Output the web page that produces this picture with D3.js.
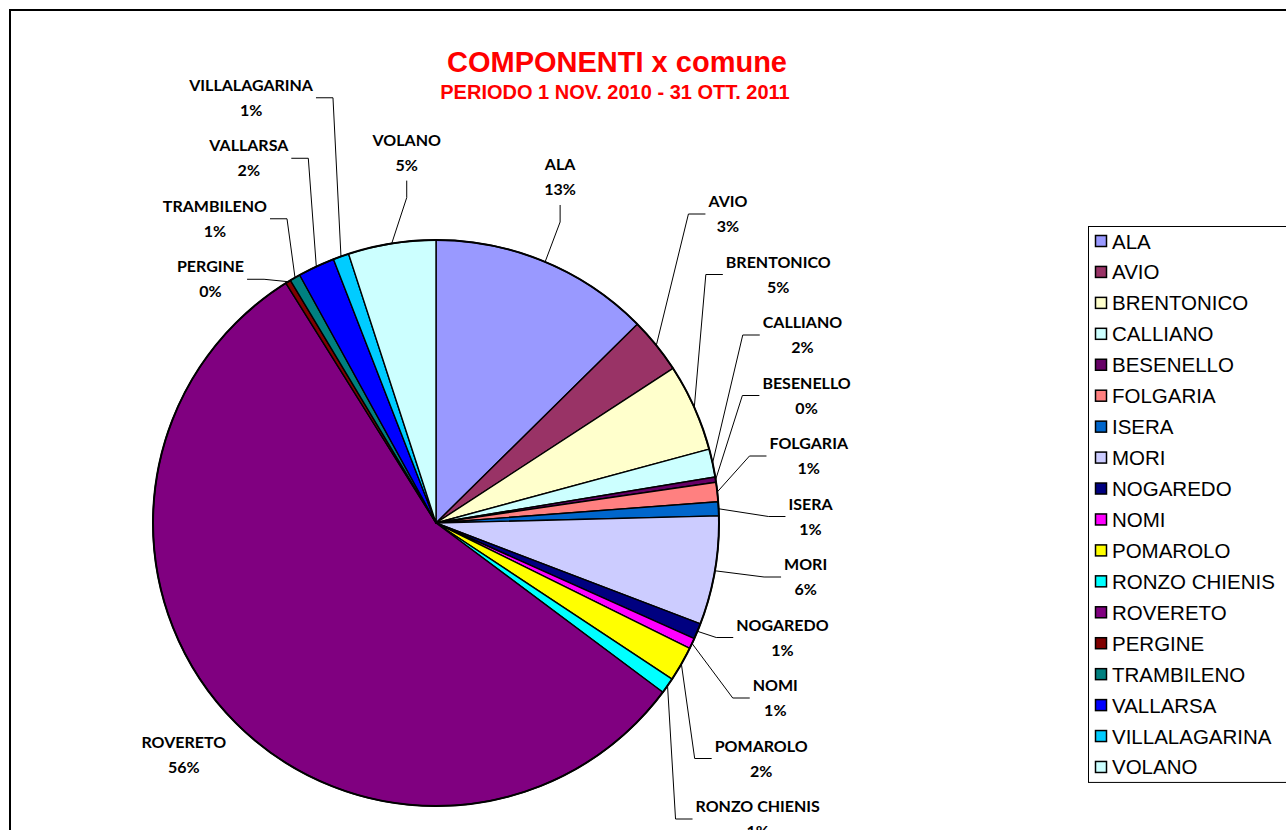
<!DOCTYPE html>
<html>
<head>
<meta charset="utf-8">
<script src="https://cdn.jsdelivr.net/npm/d3@7"></script>
<style>
  html, body { margin: 0; padding: 0; background: #fff; }
  svg { display: block; }
</style>
</head>
<body>
<div id="chart"></div>
<script>
// ------------------------------------------------------------
// Data
// ------------------------------------------------------------
var comuni = ["ALA", "AVIO", "BRENTONICO", "CALLIANO", "BESENELLO", "FOLGARIA",
  "ISERA", "MORI", "NOGAREDO", "NOMI", "POMAROLO", "RONZO CHIENIS", "ROVERETO",
  "PERGINE", "TRAMBILENO", "VALLARSA", "VILLALAGARINA", "VOLANO"];

var componenti = [126, 32, 50, 16, 3, 11, 8, 62, 9, 6, 20, 9, 559, 3, 6, 21, 9, 50];

var colori = ["#9999ff", "#993366", "#ffffcc", "#ccffff", "#660066", "#ff8080",
  "#0066cc", "#ccccff", "#000080", "#ff00ff", "#ffff00", "#00ffff", "#800080",
  "#800000", "#008080", "#0000ff", "#00ccff", "#ccffff"];

var titolo = "COMPONENTI x comune";
var sottotitolo = "PERIODO 1 NOV. 2010 - 31 OTT. 2011";

// ------------------------------------------------------------
// Layout
// ------------------------------------------------------------
var width = 1286, height = 830,
    cx = 436, cy = 523,      // pie centre
    radius = 283,
    labelFont = "Lato, 'Open Sans', sans-serif",
    labelSize = 16,
    gap = 60.5,              // vertical distance between stacked labels
    labelH = 50,
    elbow = 17,              // horizontal part of a leader line
    topLimit = -(radius + 156),
    bottomLimit = radius + 13;

var svg = d3.select("#chart").append("svg")
  .attr("width", width)
  .attr("height", height);

// chart border
svg.append("rect")
  .attr("x", 10).attr("y", 10)
  .attr("width", width + 20).attr("height", height + 20)
  .attr("fill", "none").attr("stroke", "#000").attr("stroke-width", 2);

// titles
svg.append("text")
  .attr("x", 617).attr("y", 72)
  .attr("text-anchor", "middle")
  .style("font", "bold 29px 'Liberation Sans', Arial, sans-serif")
  .attr("fill", "#ff0000")
  .text(titolo);

svg.append("text")
  .attr("x", 615).attr("y", 99)
  .attr("text-anchor", "middle")
  .style("font", "bold 20px 'Liberation Sans', Arial, sans-serif")
  .attr("fill", "#ff0000")
  .text(sottotitolo);

// ------------------------------------------------------------
// Pie
// ------------------------------------------------------------
var total = d3.sum(componenti);
var pie = d3.pie().sort(null).value(function (d) { return d; });
var arcs = pie(componenti);
var arc = d3.arc().innerRadius(0).outerRadius(radius);

var g = svg.append("g").attr("transform", "translate(" + cx + "," + cy + ")");

g.selectAll("path.slice")
  .data(arcs)
  .enter().append("path")
    .attr("class", "slice")
    .attr("d", arc)
    .attr("fill", function (d, i) { return colori[i]; })
    .attr("stroke", "#000")
    .attr("stroke-width", 1.4)
    .attr("stroke-linejoin", "round");

g.append("circle")
  .attr("r", radius)
  .attr("fill", "none")
  .attr("stroke", "#000")
  .attr("stroke-width", 2);

// ------------------------------------------------------------
// Labels
// ------------------------------------------------------------
var measure = svg.append("text")
  .style("font-family", labelFont)
  .style("font-weight", "bold")
  .style("font-size", labelSize + "px");

function textWidth(s) {
  measure.text(s);
  return measure.node().getComputedTextLength();
}

function pctText(d) {
  return Math.round(d.value / total * 100) + "%";
}

var labels = arcs.map(function (d, i) {
  var a = (d.startAngle + d.endAngle) / 2,
      frac = (d.endAngle - d.startAngle) / (2 * Math.PI),
      rl = frac > 0.25 ? radius + 60 : radius + 92,
      w = Math.max(textWidth(comuni[i]), textWidth(pctText(d)));
  return {
    i: i,
    a: a,
    px: Math.sin(a) * radius,    // point on the rim
    py: -Math.cos(a) * radius,
    x: Math.sin(a) * rl,
    y0: -Math.cos(a) * rl,
    y: -Math.cos(a) * rl,
    w: w,
    side: Math.sin(a) >= 0 ? 1 : -1,
    lead: frac <= 0.25,          // big slices sit close, with no leader
    // big slices near 12 o'clock keep their label right above them
    top: Math.cos(a) > Math.cos(Math.PI / 6) && frac >= 0.03
  };
});
measure.remove();

labels.forEach(function (d) {
  if (d.top) d.x = d.px + 15;
});

function overlapX(p, q) {
  return Math.abs(p.x - q.x) < (p.w + q.w) / 2 + 4;
}

function placeCluster(c) {
  var n = c.length,
      start = d3.mean(c, function (d) { return d.y0; }) - (n - 1) * gap / 2;
  start = Math.max(topLimit, Math.min(start, bottomLimit - (n - 1) * gap));
  c.forEach(function (d, k) { d.y = start + k * gap; });
}

function clustersCollide(a, b) {
  return a.some(function (p) {
    return b.some(function (q) {
      return Math.abs(p.y - q.y) < gap && overlapX(p, q);
    });
  });
}

// spread one side's labels vertically by merging colliding clusters
function spread(list) {
  list.sort(function (p, q) { return p.y0 - q.y0; });
  var clusters = list.map(function (d) { return [d]; });
  clusters.forEach(placeCluster);
  var merged = true;
  while (merged) {
    merged = false;
    for (var k = 0; k < clusters.length - 1; k++) {
      if (clustersCollide(clusters[k], clusters[k + 1])) {
        clusters.splice(k, 2, clusters[k].concat(clusters[k + 1]));
        placeCluster(clusters[k]);
        merged = true;
        break;
      }
    }
  }
}

spread(labels.filter(function (d) { return !d.top && d.side > 0; }));
spread(labels.filter(function (d) { return !d.top && d.side < 0; }));

labels.forEach(function (d) {
  if (d.top) return;
  // keep side labels clear of the pie
  var yn = Math.max(d.y - labelH / 2, Math.min(0, d.y + labelH / 2)),
      rr = radius + 8,
      clear = yn * yn < rr * rr ? Math.sqrt(rr * rr - yn * yn) : 0,
      inner = d.x - d.side * d.w / 2;
  if (d.side * inner < clear) d.x = d.side * (clear + d.w / 2);
  // leader elbow must sit outside its rim point
  if (!d.lead) return;
  var minX = d.side * d.px + 8 + elbow + 3 + d.w / 2;
  if (d.side * d.x < minX) d.x = d.side * minX;
});

// leader lines
labels.forEach(function (d) {
  if (!d.lead) return;
  var pts;
  if (d.top) {
    var b = d.y + labelH / 2;
    pts = [[d.px, d.py], [d.x, b + 20], [d.x, b + 3]];
  } else {
    var inner = d.x - d.side * (d.w / 2 + 3);
    pts = [[d.px, d.py], [inner - d.side * elbow, d.y], [inner, d.y]];
  }
  g.append("path")
    .attr("d", d3.line()(pts))
    .attr("fill", "none")
    .attr("stroke", "#000")
    .attr("stroke-width", 1);
});

var lab = g.selectAll("g.label")
  .data(labels)
  .enter().append("g")
    .attr("class", "label")
    .attr("transform", function (d) { return "translate(" + d.x + "," + d.y + ")"; })
    .style("font-family", labelFont)
    .style("font-weight", "bold")
    .style("font-size", labelSize + "px")
    .attr("fill", "#000")
    .attr("text-anchor", "middle");

lab.append("text")
  .attr("y", -7)
  .text(function (d) { return comuni[d.i]; });

lab.append("text")
  .attr("y", 18)
  .text(function (d) { return pctText(arcs[d.i]); });

// ------------------------------------------------------------
// Legend
// ------------------------------------------------------------
var legendX = 1088, legendY = 226, rowH = 30.94;

var legend = svg.append("g");

legend.append("rect")
  .attr("x", legendX + 0.5).attr("y", legendY + 0.5)
  .attr("width", 230).attr("height", comuni.length * rowH - 1)
  .attr("fill", "#fff").attr("stroke", "#000").attr("stroke-width", 1);

var rows = legend.selectAll("g.row")
  .data(comuni)
  .enter().append("g")
    .attr("class", "row")
    .attr("transform", function (d, i) {
      return "translate(" + legendX + "," + (legendY + 15 + i * rowH) + ")";
    });

rows.append("rect")
  .attr("x", 7.5).attr("y", -5.5)
  .attr("width", 11).attr("height", 11)
  .attr("fill", function (d, i) { return colori[i]; })
  .attr("stroke", "#000").attr("stroke-width", 1.5);

rows.append("text")
  .attr("x", 24).attr("y", 7.5)
  .style("font", "20.5px 'Liberation Sans', Arial, sans-serif")
  .attr("fill", "#000")
  .text(function (d) { return d; });
</script>
</body>
</html>
